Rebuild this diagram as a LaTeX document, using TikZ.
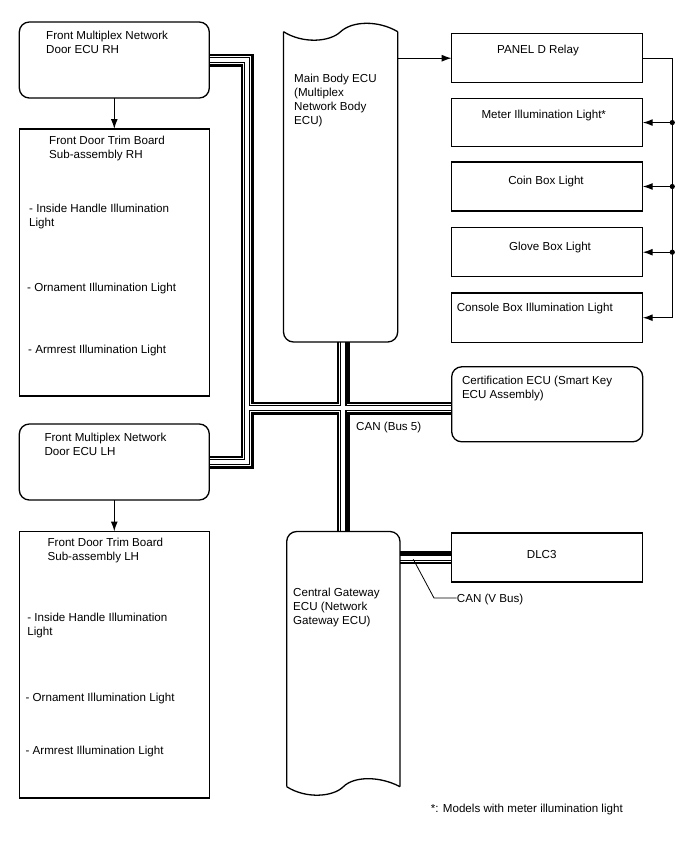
\documentclass[tikz,border=0pt]{standalone}
\usepackage{fontspec}
\setmainfont{Liberation Sans}
\usepackage{tikz}
\usetikzlibrary{calc,positioning,arrows.meta,backgrounds}

\begin{document}
\begin{tikzpicture}[x=1pt,y=-1pt,
	font=\fontsize{11.6}{14}\selectfont,
	>={Latex[length=10pt,width=7pt]},
	wire/.style={line width=1.3pt},
	box/.style={draw,line width=1.3pt,anchor=north west,inner sep=0pt,outer sep=0pt,minimum width=190pt},
	ecu/.style={box,rounded corners=10pt},
	area/.style={anchor=north west,inner sep=0pt,outer sep=0pt},
	txt/.style={anchor=north west,align=left,inner sep=0pt},
	ltxt/.style={anchor=west,inner sep=0pt,text height=8.4pt,text depth=0pt},
	ctxt/.style={anchor=center,inner sep=0pt,text height=8.4pt,text depth=0pt}]
	\useasboundingbox (0,0) rectangle (688,852);

	% left column
	\node[ecu,minimum height=76pt] (rhecu) at (19.3,22) {};
	\node[box,minimum height=267pt] (rhtrim) at (19.3,129) {};
	\node[ecu,minimum height=76pt] (lhecu) at (19.3,424) {};
	\node[box,minimum height=266.5pt] (lhtrim) at (19.3,531.5) {};
	\node[txt] (rhecutxt) at (46,30.7) {Front Multiplex Network\\Door ECU RH};
	\node[txt] (rhtrimtxt) at (49,135.7) {Front Door Trim Board\\Sub-assembly RH};
	\node[txt] (rhhandle) at (29,203.7) {- Inside Handle Illumination\\Light};
	\node[ltxt] (rhorn) at (27,287) {- Ornament Illumination Light};
	\node[ltxt] (rharm) at (28,349) {- Armrest Illumination Light};
	\node[txt] (lhecutxt) at (44.3,433.2) {Front Multiplex Network\\Door ECU LH};
	\node[txt] (lhtrimtxt) at (47.4,537.7) {Front Door Trim Board\\Sub-assembly LH};
	\node[txt] (lhhandle) at (27.2,612.7) {- Inside Handle Illumination\\Light};
	\node[ltxt] (lhorn) at (25.4,697) {- Ornament Illumination Light};
	\node[ltxt] (lharm) at (25.4,750.5) {- Armrest Illumination Light};
	\draw[wire,->] (rhecu.south) -- (rhtrim.north);
	\draw[wire,->] (lhecu.south) -- (lhtrim.north);

	% middle column
	\node[area,minimum width=114.2pt,minimum height=318pt] (mainbody) at (283.5,24) {};
	\node[area,minimum width=113.3pt,minimum height=263pt] (gateway) at (286.7,531.5) {};
	\draw[wire] (283.5,31.7) .. controls (303,44) and (330,42) .. (340.6,31.7)
		.. controls (352,21) and (378,20) .. (397.7,31.7);
	\draw[wire,rounded corners=10pt] (283.5,31.7) -- (283.5,342) -- (397.7,342) -- (397.7,31.7);
	\draw[wire,rounded corners=10pt] (286.7,786.7) -- (286.7,531.5) -- (400,531.5) -- (400,786.7);
	\draw[wire] (286.7,786.7) .. controls (306,799) and (333,797) .. (343.35,786.7)
		.. controls (354,776) and (380,776) .. (400,786.7);
	\node[txt] (mainbodytxt) at (294,73.4) {Main Body ECU\\(Multiplex\\Network Body\\ECU)};
	\node[txt] (gatewaytxt) at (293,588.1) {Central Gateway\\ECU (Network\\Gateway ECU)};

	% right column
	\node[box,minimum width=191pt,minimum height=49pt] (relay) at (451.7,33.7) {};
	\node[box,minimum width=191pt,minimum height=48.3pt] (meter) at (451.7,98.4) {};
	\node[box,minimum width=191pt,minimum height=49pt] (coin) at (451.7,162) {};
	\node[box,minimum width=191pt,minimum height=49pt] (glove) at (451.7,227.7) {};
	\node[box,minimum width=191pt,minimum height=49.4pt] (console) at (451.7,293) {};
	\node[ecu,minimum width=191pt,minimum height=75pt] (cert) at (451.7,366.8) {};
	\node[box,minimum width=191pt,minimum height=49pt] (dlc) at (451.7,533) {};
	\node[ctxt] (relaytxt) at (538,49) {PANEL D Relay};
	\node[ctxt] (metertxt) at (543.8,114.7) {Meter Illumination Light*};
	\node[ctxt] (cointxt) at (546,180) {Coin Box Light};
	\node[ctxt] (glovetxt) at (550,246.7) {Glove Box Light};
	\node[ltxt] (consoletxt) at (456.6,307.6) {Console Box Illumination Light};
	\node[txt] (certtxt) at (461.8,375.7) {Certification ECU (Smart Key\\ECU Assembly)};
	\node[ctxt] (dlctxt) at (541.7,553.8) {DLC3};

	\coordinate (rail) at (672.3,0);
	\draw[wire,->] (relay.west -| mainbody.east) -- (relay.west);
	\draw[wire,->] (relay.east) -- (relay.east -| rail) |- (console.east);
	\foreach \lamp in {meter,coin,glove}{
		\fill (\lamp.east -| rail) circle (2.6pt);
		\draw[wire,->] (\lamp.east -| rail) -- (\lamp.east);
	}

	% CAN lines
	\coordinate (lbus) at (247,408);
	\begin{scope}[on background layer]
	\foreach \w/\c in {13/black,8/white,6.5/black,4/white}
		\draw[line width=\w pt,\c] (rhecu.east) -- (rhecu.east -| lbus) -- (lhecu.east -| lbus) -- (lhecu.east)
			(lbus) -- (cert.west |- lbus)
			(mainbody.south -| gateway.north) -- (gateway.north)
			(gateway.east |- dlc.west) -- (dlc.west);
	\end{scope}
	\node[ltxt] (canbus) at (356,426.6) {CAN (Bus 5)};
	\node[ltxt] (canv) at (456.7,598) {CAN (V Bus)};
	\coordinate (vtap) at (413.3,559.3);
	\draw[line width=0.8pt] (vtap) -- (434,598) -- (canv.west);

	\node[ltxt] (note) at (430.7,808) {*: Models with meter illumination light};
\end{tikzpicture}
\end{document}
